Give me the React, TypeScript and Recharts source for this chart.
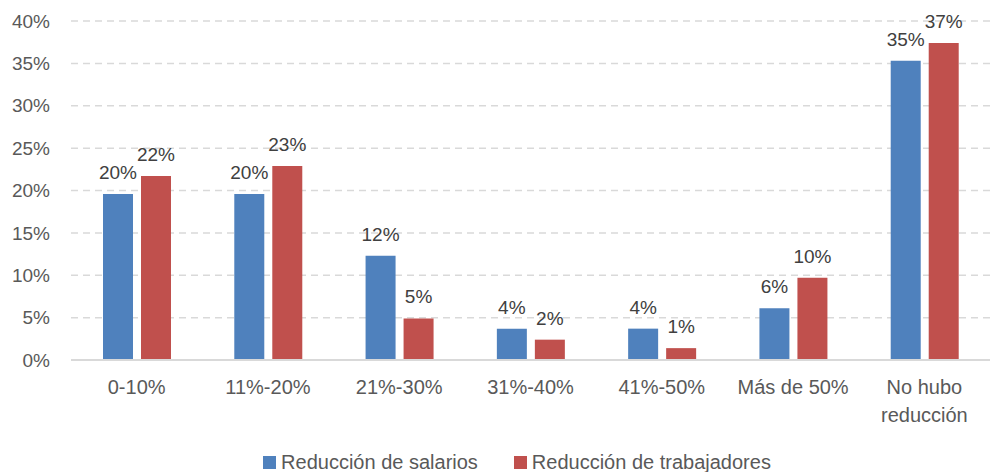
import { BarChart, Bar, XAxis, YAxis, CartesianGrid, LabelList, Legend } from 'recharts'

const categories = ['0-10%', '11%-20%', '21%-30%', '31%-40%', '41%-50%', 'Más de 50%', 'No hubo reducción']
const salarios = [19.6, 19.6, 12.3, 3.7, 3.7, 6.1, 35.3]
const trabajadores = [21.7, 22.9, 4.9, 2.4, 1.4, 9.7, 37.4]
const yTicks = [0, 5, 10, 15, 20, 25, 30, 35, 40]

const BLUE = '#4F81BD'
const RED = '#C0504D'
const FONT = '"Liberation Sans", Arial, sans-serif'

const data = categories.map((name, i) => ({
  name,
  salarios: salarios[i],
  trabajadores: trabajadores[i],
}))

// simple greedy wrap so long category names break onto two lines
function wrap(label: string, maxChars = 10) {
  const lines: string[] = []
  let cur = ''
  for (const w of label.split(' ')) {
    const next = cur ? cur + ' ' + w : w
    if (next.length > maxChars && cur) {
      lines.push(cur)
      cur = w
    } else {
      cur = next
    }
  }
  if (cur) lines.push(cur)
  return lines
}

function CategoryTick({ x, y, payload }: { x?: number; y?: number; payload?: { value: string } }) {
  const lines = wrap(payload?.value ?? '')
  return (
    <text x={x} y={y} textAnchor="middle" fill="#595959" fontSize={20} fontFamily={FONT}>
      {lines.map((l, i) => (
        <tspan key={i} x={x} dy={i === 0 ? 26 : 28}>
          {l}
        </tspan>
      ))}
    </text>
  )
}

function LegendContent() {
  const items = [
    { label: 'Reducción de salarios', color: BLUE },
    { label: 'Reducción de trabajadores', color: RED },
  ]
  return (
    <div
      style={{
        height: 42,
        paddingTop: 22,
        paddingLeft: 44,
        boxSizing: 'border-box',
        display: 'flex',
        justifyContent: 'center',
        alignItems: 'center',
        gap: 36,
        fontFamily: FONT,
        fontSize: 20,
        color: '#595959',
      }}
    >
      {items.map((it) => (
        <div key={it.label} style={{ display: 'flex', alignItems: 'center', gap: 5, height: 20 }}>
          <span style={{ width: 13, height: 13, background: it.color, display: 'inline-block' }} />
          <span>{it.label}</span>
        </div>
      ))}
    </div>
  )
}

const pct = (v: unknown) => `${Math.round(Number(v))}%`

export default function App() {
  return (
    <div style={{ position: 'absolute', left: 0, top: 0, width: 990, height: 472, background: '#fff' }}>
      <BarChart
        width={990}
        height={472}
        data={data}
        margin={{ top: 21, right: 0, left: 0, bottom: 0 }}
        barSize={30}
        barGap={8}
      >
        <CartesianGrid vertical={false} stroke="#D9D9D9" strokeDasharray="7 5" strokeWidth={1.5} />
        <XAxis
          dataKey="name"
          axisLine={{ stroke: '#D9D9D9', strokeWidth: 2 }}
          tickLine={false}
          height={70}
          interval={0}
          tick={<CategoryTick />}
        />
        <YAxis
          domain={[0, 40]}
          ticks={yTicks}
          tickFormatter={(v) => `${v}%`}
          axisLine={false}
          tickLine={false}
          tickSize={0}
          tickMargin={21}
          width={71}
          tick={{ fontSize: 19, fill: '#595959', fontFamily: FONT }}
        />
        <Legend verticalAlign="bottom" content={<LegendContent />} />
        <Bar dataKey="salarios" name="Reducción de salarios" fill={BLUE} isAnimationActive={false}>
          <LabelList
            dataKey="salarios"
            position="top"
            offset={15}
            formatter={pct}
            style={{ fontSize: 19, fill: '#404040', fontFamily: FONT }}
          />
        </Bar>
        <Bar dataKey="trabajadores" name="Reducción de trabajadores" fill={RED} isAnimationActive={false}>
          <LabelList
            dataKey="trabajadores"
            position="top"
            offset={15}
            formatter={pct}
            style={{ fontSize: 19, fill: '#404040', fontFamily: FONT }}
          />
        </Bar>
      </BarChart>
    </div>
  )
}
